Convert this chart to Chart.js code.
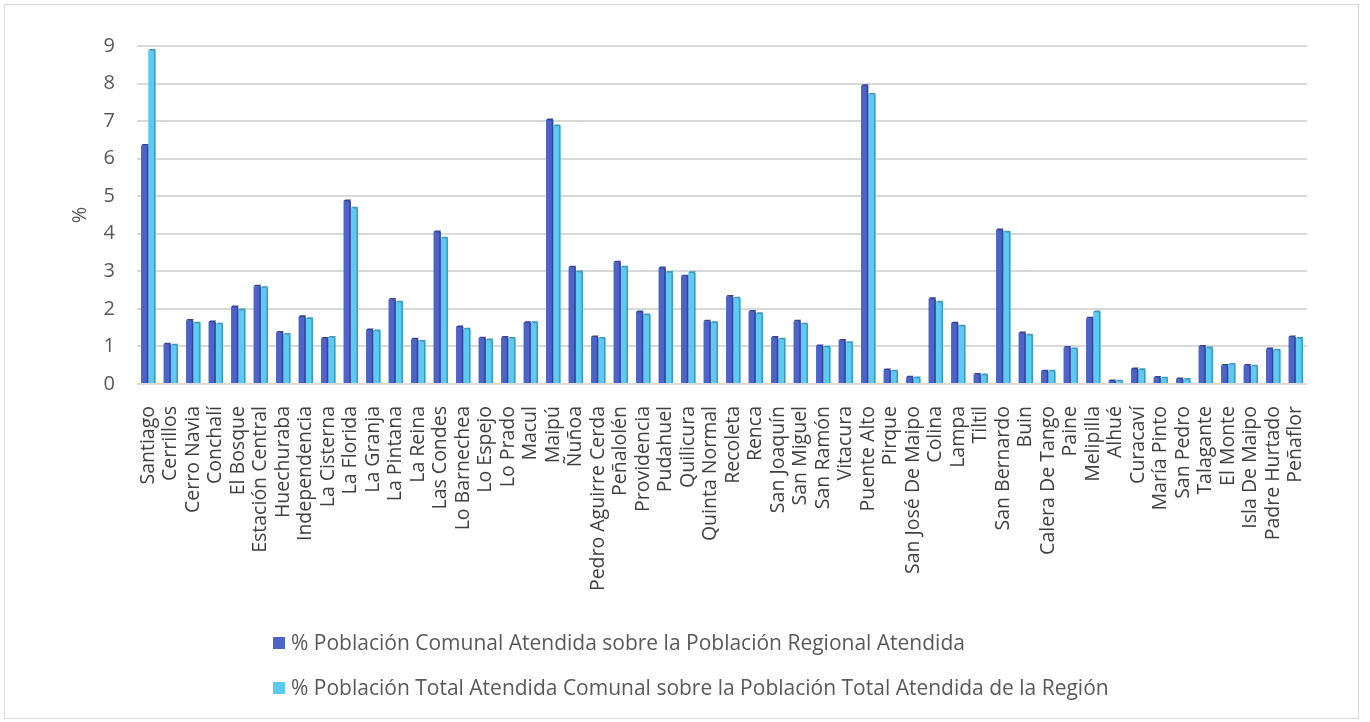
<!DOCTYPE html>
<html>
<head>
<meta charset="utf-8">
<script src="https://cdn.jsdelivr.net/npm/chart.js@4/dist/chart.umd.min.js"></script>
<style>
  html, body { margin: 0; padding: 0; background: #fff; }
  #wrap { position: relative; width: 1370px; height: 722px; overflow: hidden; }
  #frame { position: absolute; left: 4px; top: 4px; width: 1355px; height: 715px; border: 1px solid #d9d9d9; box-sizing: border-box; }
  #chartBox { position: absolute; left: 0; top: 0; width: 1370px; height: 722px; }
  .legend { position: absolute; left: 273px; font-family: "Open Sans", sans-serif; font-size: 21px; color: #595959; white-space: nowrap; line-height: 28px; }
  .legend span.sw { display: inline-block; width: 12px; height: 12px; margin-right: 6px; vertical-align: 1px; }
</style>
</head>
<body>
<div id="wrap">
  <div id="frame"></div>
  <div id="chartBox"><canvas id="chartComunas" width="1370" height="722"></canvas></div>
  <div class="legend" id="leg1" style="top:628px;"></div>
  <div class="legend" id="leg2" style="top:673px;"></div>
</div>
<script>
// === DONNÉES ===
const comunas = [
    "Santiago", "Cerrillos", "Cerro Navia", "Conchalí", "El Bosque", "Estación Central",
    "Huechuraba", "Independencia", "La Cisterna", "La Florida", "La Granja", "La Pintana",
    "La Reina", "Las Condes", "Lo Barnechea", "Lo Espejo", "Lo Prado", "Macul", "Maipú",
    "Ñuñoa", "Pedro Aguirre Cerda", "Peñalolén", "Providencia", "Pudahuel", "Quilicura",
    "Quinta Normal", "Recoleta", "Renca", "San Joaquín", "San Miguel", "San Ramón",
    "Vitacura", "Puente Alto", "Pirque", "San José De Maipo", "Colina", "Lampa", "Tiltil",
    "San Bernardo", "Buin", "Calera De Tango", "Paine", "Melipilla", "Alhué", "Curacaví",
    "María Pinto", "San Pedro", "Talagante", "El Monte", "Isla De Maipo", "Padre Hurtado",
    "Peñaflor"
];

const pctComunalRegional = [
    6.35, 1.06, 1.69, 1.65, 2.05, 2.60, 1.37, 1.79, 1.21, 4.87, 1.44, 2.25,
    1.19, 4.05, 1.52, 1.22, 1.24, 1.63, 7.03, 3.11, 1.25, 3.24, 1.92, 3.09, 2.87,
    1.67, 2.33, 1.93, 1.24, 1.67, 1.01, 1.16, 7.94, 0.37, 0.18, 2.27, 1.62, 0.25,
    4.10, 1.36, 0.34, 0.97, 1.75, 0.08, 0.40, 0.17, 0.13, 1.00, 0.49, 0.49, 0.93,
    1.25
];

const pctTotalComunal = [
    8.88, 1.03, 1.62, 1.59, 1.97, 2.56, 1.32, 1.74, 1.24, 4.68, 1.41, 2.18,
    1.13, 3.88, 1.46, 1.17, 1.21, 1.63, 6.87, 2.98, 1.21, 3.11, 1.84, 2.97, 2.96,
    1.63, 2.28, 1.87, 1.19, 1.59, 0.98, 1.10, 7.71, 0.34, 0.16, 2.18, 1.54, 0.24,
    4.04, 1.30, 0.34, 0.93, 1.92, 0.07, 0.38, 0.15, 0.12, 0.96, 0.52, 0.47, 0.90,
    1.21
];

const yTicks = [0, 1, 2, 3, 4, 5, 6, 7, 8, 9];

const serieLabels = [
    "% Población Comunal Atendida sobre la Población Regional Atendida",
    "% Población Total Atendida Comunal sobre la Población Total Atendida de la Región"
];

const couleurs = ["#4C63C8", "#5BCBF2"];
const couleursOmbre = ["#33449A", "#3A9CBF"];


// === LÉGENDE HTML ===
["leg1", "leg2"].forEach((id, i) => {
    let el = document.getElementById(id);
    let sw = document.createElement("span");
    sw.className = "sw";
    sw.style.background = couleurs[i];
    el.appendChild(sw);
    el.appendChild(document.createTextNode(serieLabels[i]));
});


// === EFFET 3D SIMPLE ===
const effet3d = {
    id: "effet3d",
    afterDatasetsDraw(chart) {
        const ctx = chart.ctx;
        chart.data.datasets.forEach((ds, i) => {
            const meta = chart.getDatasetMeta(i);
            ctx.save();
            ctx.fillStyle = couleursOmbre[i];
            meta.data.forEach(bar => {
                const w = bar.width;
                const left = bar.x - w / 2;
                const right = bar.x + w / 2;
                const h = bar.base - bar.y;
                // côté droit
                ctx.fillRect(right - 1.5, bar.y, 1.5, h);
                // petit chapeau
                ctx.beginPath();
                ctx.moveTo(left, bar.y);
                ctx.lineTo(left + 1.5, bar.y - 1.5);
                ctx.lineTo(right + 0.5, bar.y - 1.5);
                ctx.lineTo(right - 1, bar.y + 0.5);
                ctx.closePath();
                ctx.fill();
            });
            ctx.restore();
        });
    }
};


// === GRAPHIQUE ===
const ctx = document.getElementById("chartComunas");

new Chart(ctx, {
    type: "bar",
    data: {
        labels: comunas,
        datasets: [
            {
                label: serieLabels[0],
                data: pctComunalRegional,
                backgroundColor: couleurs[0],
                categoryPercentage: 0.64,
                barPercentage: 1.0
            },
            {
                label: serieLabels[1],
                data: pctTotalComunal,
                backgroundColor: couleurs[1],
                categoryPercentage: 0.64,
                barPercentage: 1.0
            }
        ]
    },
    options: {
        responsive: false,
        animation: false,
        layout: { padding: { top: 46, right: 63, left: 68, bottom: 0 } },
        plugins: {
            legend: { display: false },
            tooltip: { enabled: false }
        },
        scales: {
            x: {
                grid: { display: false },
                border: { display: false },
                ticks: {
                    autoSkip: false,
                    maxRotation: 90,
                    minRotation: 90,
                    padding: 14,
                    color: "#404040",
                    font: { family: "Open Sans", size: 19.5 }
                },
                afterFit(scale) { scale.height = 338; }
            },
            y: {
                min: 0,
                max: 9,
                afterBuildTicks(scale) {
                    scale.ticks = yTicks.map(v => ({ value: v }));
                },
                grid: { color: "#d9d9d9", lineWidth: 2, drawTicks: false },
                border: { display: false },
                ticks: {
                    padding: 22,
                    color: "#595959",
                    font: { family: "Open Sans", size: 20 }
                },
                title: {
                    display: true,
                    text: "%",
                    color: "#595959",
                    padding: { top: 0, bottom: 0 },
                    font: { family: "Open Sans", size: 20 }
                },
                afterFit(scale) { scale.width = 69; }
            }
        }
    },
    plugins: [effet3d]
});
</script>
</body>
</html>
